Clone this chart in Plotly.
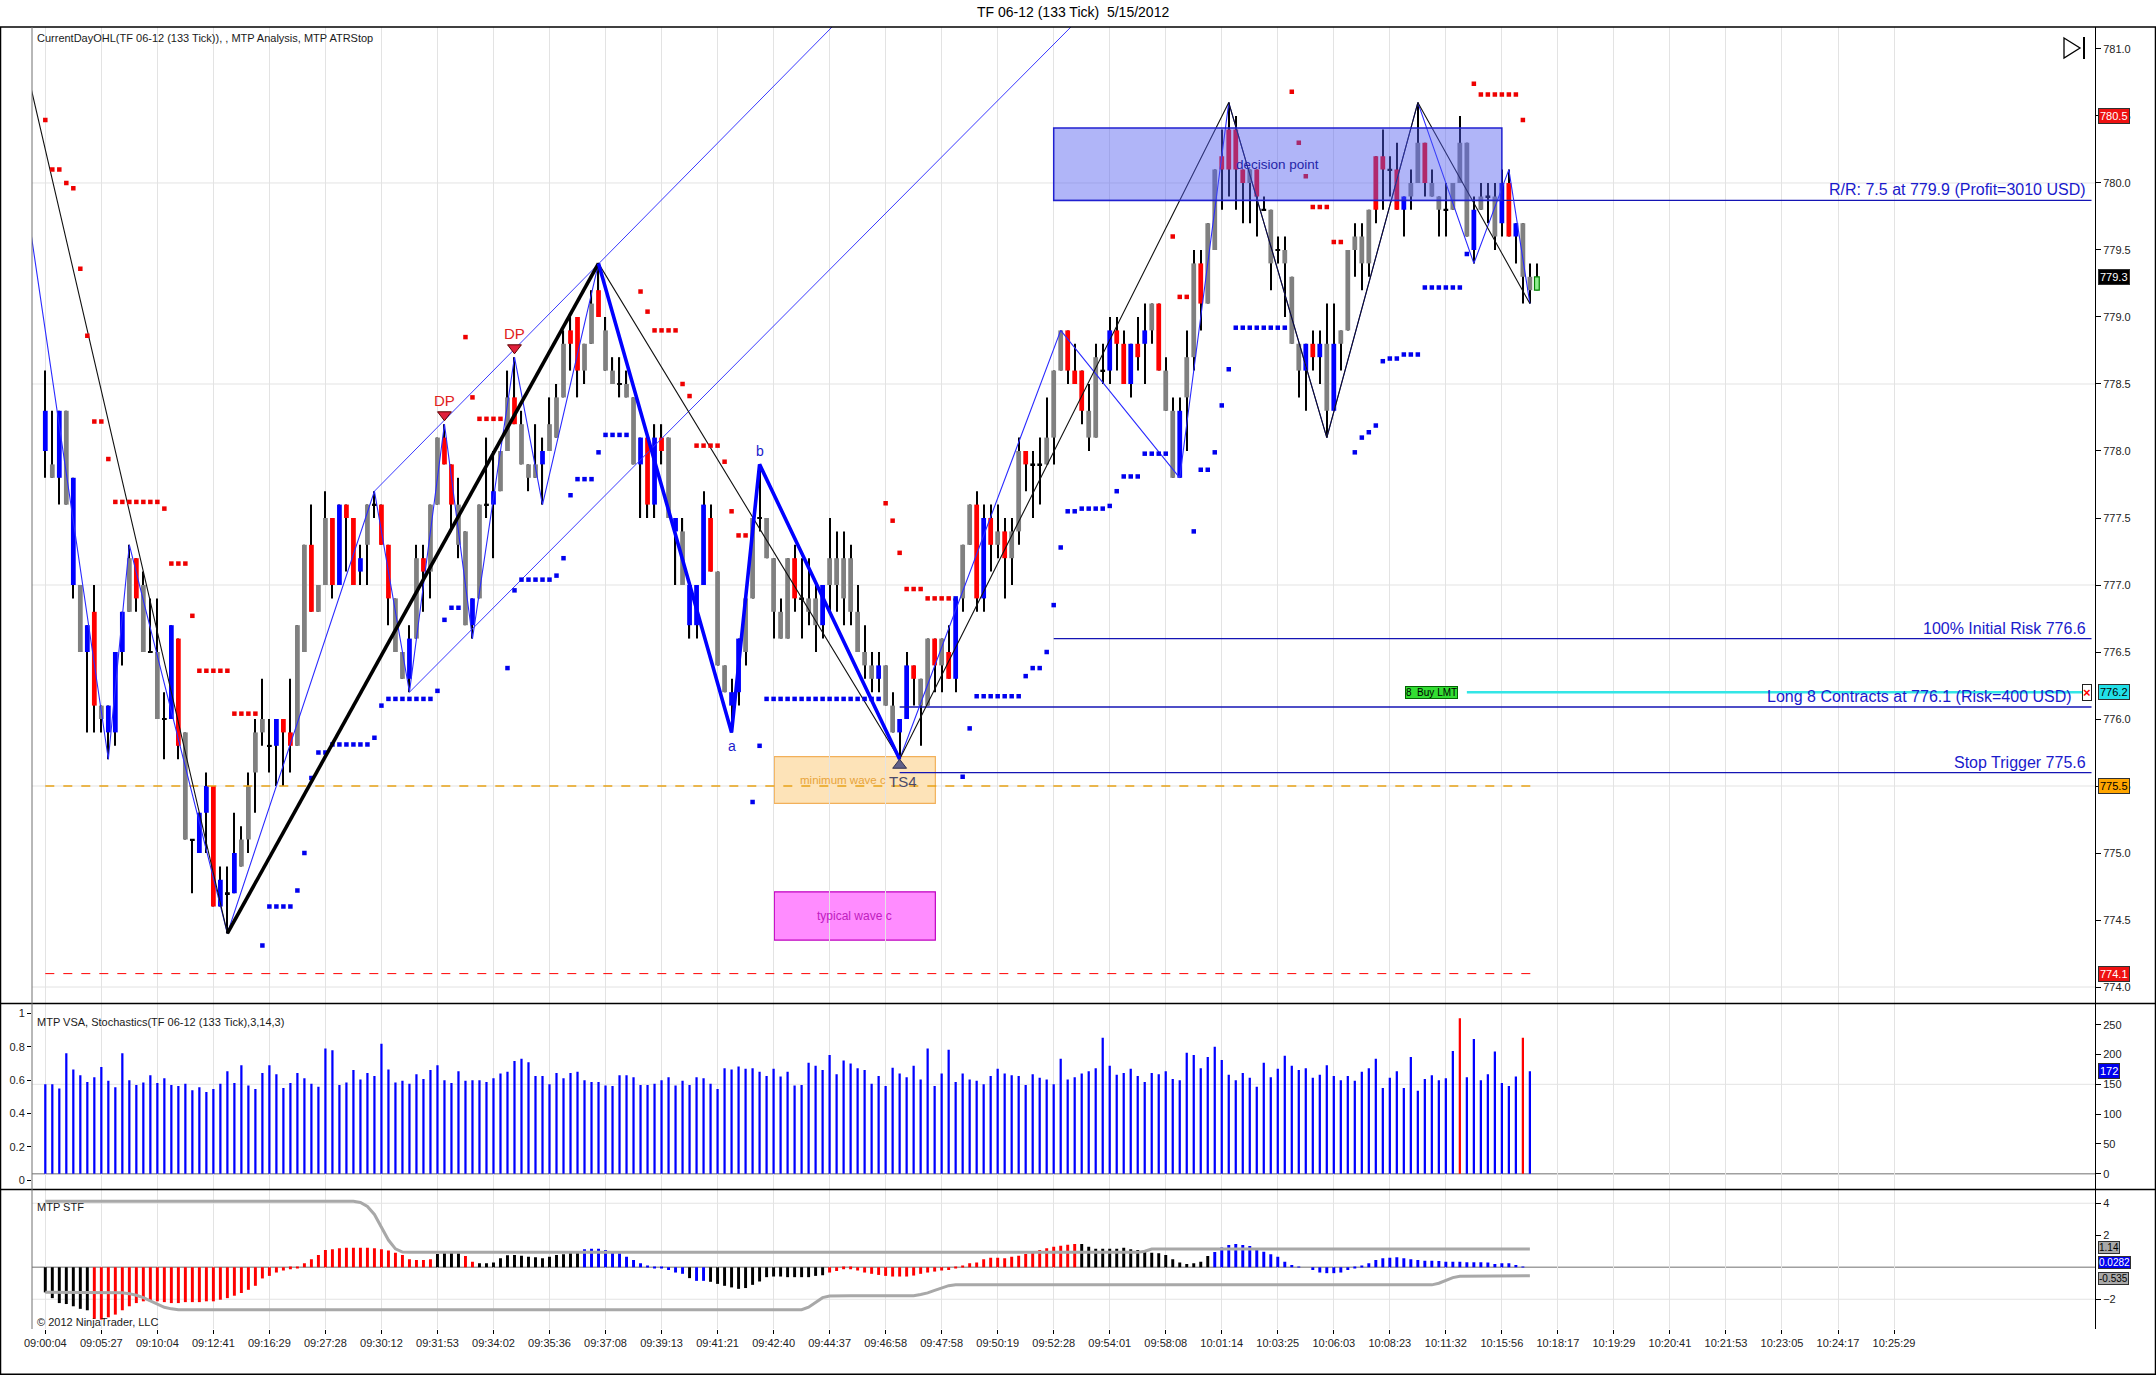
import plotly.graph_objects as go

# ---------------- data ----------------
time_labels = ["09:00:04", "09:05:27", "09:10:04", "09:12:41", "09:16:29", "09:27:28",
               "09:30:12", "09:31:53", "09:34:02", "09:35:36", "09:37:08", "09:39:13",
               "09:41:21", "09:42:40", "09:44:37", "09:46:58", "09:47:58", "09:50:19",
               "09:52:28", "09:54:01", "09:58:08", "10:01:14", "10:03:25", "10:06:03",
               "10:08:23", "10:11:32", "10:15:56", "10:18:17", "10:19:29", "10:20:41",
               "10:21:53", "10:23:05", "10:24:17", "10:25:29"]
bars_per_label = 8

# 133 tick bars: body top / bottom, high, low and MTP colour code
body_top = [
    778.3, 777.9, 778.3, 778.3, 777.8, 777.0, 776.7, 776.8, 776.1, 776.1,
    776.5, 776.8, 777.2, 777.2, 777.0, 776.5, 776.5, 776.0, 776.7, 776.6,
    775.9, 775.1, 775.3, 775.5, 775.5, 774.8, 774.7, 775.0, 775.1, 775.5,
    775.9, 776.0, 775.8, 776.0, 776.0, 775.9, 776.7, 777.3, 777.3, 777.0,
    777.5, 777.5, 777.6, 777.6, 777.5, 777.2, 777.6, 777.6, 777.6, 777.3,
    776.9, 776.5, 776.6, 777.2, 777.2, 777.6, 778.1, 778.1, 777.9, 777.6,
    777.4, 776.9, 777.6, 777.6, 777.7, 778.0, 778.4, 778.4, 778.2, 777.9,
    777.9, 778.0, 778.2, 778.4, 778.8, 778.9, 779.0, 778.8, 779.1, 779.2,
    778.9, 778.6, 778.5, 778.5, 778.4, 778.1, 778.1, 778.1, 778.1, 778.1,
    777.5, 777.4, 777.0, 777.0, 777.6, 777.5, 777.1, 776.4, 776.2, 776.6,
    776.9, 777.5, 777.5, 777.5, 777.2, 776.8, 777.2, 777.2, 776.9, 776.9,
    776.9, 777.0, 777.2, 777.2, 777.2, 777.2, 776.8, 776.5, 776.4, 776.4,
    776.4, 776.1, 776.0, 776.4, 776.4, 776.3, 776.6, 776.6, 776.6, 776.5,
    776.9, 777.3, 777.6, 777.6, 777.5, 777.5, 777.4, 777.4, 777.4, 778.0,
    778.0, 777.9, 777.9, 778.1, 778.6, 778.9, 778.9, 778.6, 778.6, 778.3,
    778.7, 778.6, 778.9, 778.9, 778.8, 778.8, 778.8, 778.9, 779.1, 779.1,
    778.6, 778.3, 778.3, 778.7, 779.4, 779.4, 779.7, 780.1, 780.2, 780.4,
    780.4, 780.1, 780.1, 780.1, 779.8, 779.8, 779.5, 779.5, 779.3, 778.8,
    778.8, 778.8, 778.8, 778.8, 778.8, 778.9, 779.5, 779.6, 779.6, 779.8,
    780.2, 780.2, 780.1, 780.1, 779.9, 780.0, 780.3, 780.3, 780.0, 779.9,
    779.8, 780.0, 780.3, 780.3, 779.8, 779.9, 779.9, 779.9, 780.0, 780.0,
    779.7, 779.7, 779.3, 779.3,
]
body_bot = [
    778.0, 777.8, 777.8, 777.6, 777.0, 776.5, 776.5, 776.1, 776.0, 775.9,
    775.9, 776.5, 776.8, 776.9, 776.5, 776.5, 776.0, 776.0, 776.0, 775.8,
    775.1, 775.1, 775.0, 775.3, 774.6, 774.6, 774.7, 774.7, 774.9, 775.1,
    775.6, 775.9, 775.8, 775.8, 775.9, 775.8, 775.8, 776.5, 776.8, 776.8,
    777.0, 777.0, 777.0, 777.5, 777.0, 777.1, 777.3, 777.6, 777.3, 776.9,
    776.5, 776.3, 776.3, 776.6, 777.1, 777.1, 777.6, 777.9, 777.6, 777.3,
    776.7, 776.7, 776.9, 777.6, 777.6, 777.7, 778.0, 778.2, 777.9, 777.8,
    777.8, 777.9, 778.0, 778.1, 778.4, 778.8, 778.6, 778.6, 778.8, 779.0,
    778.6, 778.5, 778.5, 778.4, 777.9, 777.9, 777.6, 777.6, 778.0, 777.5,
    777.4, 777.0, 776.7, 776.7, 777.0, 777.1, 776.4, 776.2, 776.1, 776.2,
    776.5, 776.9, 777.5, 777.2, 776.8, 776.6, 776.6, 776.9, 776.9, 776.8,
    776.7, 776.7, 777.0, 777.0, 776.9, 776.8, 776.5, 776.4, 776.3, 776.3,
    776.1, 775.9, 775.9, 776.0, 776.3, 776.1, 776.1, 776.4, 776.4, 776.3,
    776.3, 776.9, 777.3, 776.9, 776.9, 777.3, 777.3, 777.2, 777.2, 777.4,
    777.9, 777.9, 777.9, 777.9, 778.1, 778.6, 778.6, 778.5, 778.3, 778.1,
    778.1, 778.6, 778.6, 778.8, 778.5, 778.5, 778.7, 778.8, 778.9, 778.6,
    778.3, 777.8, 777.8, 778.4, 778.7, 779.1, 779.1, 779.5, 780.1, 780.1,
    780.1, 780.0, 780.0, 779.9, 779.8, 779.4, 779.5, 779.4, 778.8, 778.6,
    778.6, 778.7, 778.7, 778.3, 778.3, 778.8, 778.9, 779.5, 779.4, 779.4,
    779.8, 780.1, 780.1, 779.8, 779.8, 779.9, 780.0, 780.0, 779.9, 779.8,
    779.8, 779.8, 780.0, 779.6, 779.5, 779.8, 779.9, 779.6, 779.7, 779.6,
    779.6, 779.3, 779.2, 779.2,
]
bar_high = [
    778.6, 778.3, 778.3, 778.3, 777.8, 777.0, 776.7, 777.0, 776.1, 776.1,
    776.5, 776.8, 777.3, 777.2, 777.1, 776.9, 776.9, 776.2, 776.7, 776.6,
    775.9, 775.1, 775.3, 775.6, 775.5, 774.9, 774.9, 775.3, 775.2, 775.6,
    776.0, 776.3, 776.0, 776.0, 776.0, 776.3, 776.7, 777.3, 777.6, 777.0,
    777.7, 777.5, 777.6, 777.6, 777.5, 777.3, 777.6, 777.7, 777.6, 777.3,
    776.9, 776.5, 776.7, 777.3, 777.3, 777.6, 778.1, 778.2, 777.9, 777.8,
    777.4, 776.9, 777.6, 778.1, 778.0, 778.0, 778.6, 778.7, 778.3, 777.9,
    778.2, 778.1, 778.4, 778.5, 778.9, 779.0, 779.0, 778.8, 779.2, 779.4,
    779.0, 778.7, 778.7, 778.6, 778.4, 778.1, 778.1, 778.2, 778.2, 778.1,
    777.5, 777.5, 777.0, 777.0, 777.7, 777.6, 777.1, 776.4, 776.3, 776.6,
    776.9, 777.5, 777.9, 777.5, 777.2, 776.9, 777.2, 777.3, 777.2, 777.2,
    777.0, 777.0, 777.5, 777.4, 777.4, 777.3, 777.0, 776.7, 776.5, 776.5,
    776.4, 776.2, 776.0, 776.5, 776.4, 776.3, 776.6, 776.6, 776.6, 776.7,
    776.9, 777.3, 777.6, 777.7, 777.6, 777.6, 777.6, 777.5, 777.5, 778.1,
    778.0, 778.0, 778.1, 778.4, 778.6, 778.9, 778.9, 778.8, 778.6, 778.5,
    778.8, 778.8, 779.0, 779.0, 778.9, 778.8, 779.0, 779.1, 779.1, 779.1,
    778.7, 778.4, 778.4, 778.9, 779.5, 779.5, 779.7, 780.1, 780.4, 780.6,
    780.5, 780.1, 780.1, 780.1, 779.9, 779.8, 779.6, 779.6, 779.3, 778.8,
    778.8, 778.9, 778.9, 779.1, 779.1, 778.9, 779.5, 779.7, 779.7, 779.8,
    780.2, 780.4, 780.2, 780.3, 779.9, 780.1, 780.6, 780.3, 780.1, 779.9,
    780.0, 780.0, 780.5, 780.3, 779.9, 780.0, 780.0, 780.0, 780.1, 780.1,
    779.7, 779.7, 779.4, 779.4,
]
bar_low = [
    777.8, 777.8, 777.6, 777.6, 776.9, 776.5, 775.9, 775.9, 775.9, 775.7,
    775.8, 776.4, 776.8, 776.8, 776.5, 776.5, 776.0, 775.7, 776.0, 775.7,
    775.1, 774.7, 775.0, 775.0, 774.6, 774.6, 774.4, 774.7, 774.9, 775.0,
    775.3, 775.8, 775.6, 775.5, 775.5, 775.6, 775.8, 776.5, 776.8, 776.8,
    777.0, 776.9, 777.0, 777.1, 777.0, 777.0, 777.0, 777.5, 777.3, 776.7,
    776.5, 776.3, 776.2, 776.6, 776.8, 776.9, 777.6, 777.9, 777.4, 777.2,
    776.7, 776.6, 776.9, 777.5, 777.2, 777.7, 778.0, 778.2, 777.9, 777.7,
    777.8, 777.6, 778.0, 778.1, 778.4, 778.6, 778.4, 778.5, 778.8, 779.0,
    778.6, 778.5, 778.4, 778.4, 777.9, 777.5, 777.5, 777.5, 777.9, 777.5,
    777.0, 777.0, 776.6, 776.6, 777.0, 777.1, 776.4, 776.2, 775.9, 776.1,
    776.4, 776.9, 777.4, 777.2, 776.6, 776.6, 776.6, 776.8, 776.6, 776.7,
    776.5, 776.6, 776.8, 776.8, 776.7, 776.7, 776.5, 776.3, 776.2, 776.2,
    776.1, 775.9, 775.7, 776.0, 776.1, 775.8, 776.1, 776.2, 776.2, 776.3,
    776.2, 776.8, 777.3, 776.8, 776.8, 777.1, 777.2, 776.9, 777.0, 777.3,
    777.7, 777.5, 777.6, 777.9, 777.9, 778.6, 778.5, 778.5, 778.2, 778.0,
    778.1, 778.5, 778.5, 778.6, 778.5, 778.4, 778.6, 778.5, 778.8, 778.6,
    778.3, 777.8, 777.8, 778.0, 778.6, 778.9, 779.1, 779.5, 779.8, 779.9,
    779.8, 779.7, 779.7, 779.6, 779.8, 779.2, 779.4, 779.0, 778.8, 778.4,
    778.3, 778.6, 778.5, 778.1, 778.3, 778.6, 778.9, 779.3, 779.2, 779.3,
    779.7, 779.8, 779.9, 779.8, 779.6, 779.8, 780.0, 779.9, 779.9, 779.6,
    779.6, 779.8, 780.0, 779.6, 779.4, 779.8, 779.7, 779.5, 779.6, 779.6,
    779.4, 779.1, 779.1, 779.2,
]
# B blue, R red, G gray, K doji, L current (forming) bar
bar_code = ("BGBGBGBRGB" "BBGRGKGKBR" "GKBBRBKBGG" "GGKBRRGGRG" "GRBRRBGKRR"
            "GGBGRGGRRG" "GBGKBGGRGG" "GBGGGRRGGR" "GGKGGBRBRG" "BGBBBRGGBB"
            "GGKGGGGRKG" "GBGGGGGGGB" "GGBBRGGRGR" "BGGRBRGRGG" "RKKGGGRRRG"
            "GKBRRBRBGR" "GGBGGRGGRR" "RRGRKGKGGG" "BRBGBGGGGG" "RRKRBGGRGG"
            "KGGGBGKGBR" "BGGL")

# MTP ATR stop (None = no dot)
atr_stop = [
    780.47, 780.10, 780.10, 780.00, 779.96, 779.36, 778.86, 778.22, 778.22, 777.94,
    777.62, 777.62, 777.62, 777.62, 777.62, 777.62, 777.62, 777.57, 777.16, 777.16,
    777.16, 776.77, 776.36, 776.36, 776.36, 776.36, 776.36, 776.04, 776.04, 776.04,
    776.04, 774.31, 774.60, 774.60, 774.60, 774.60, 774.72, 775.00, 775.56, 775.75,
    775.75, 775.81, 775.81, 775.81, 775.81, 775.81, 775.81, 775.86, 776.10, 776.15,
    776.15, 776.15, 776.15, 776.15, 776.15, 776.15, 776.21, 776.74, 776.83, 776.83,
    778.85, 778.40, 778.24, 778.24, 778.24, 778.24, 776.38, 776.96, 777.04, 777.04,
    777.04, 777.04, 777.04, 777.07, 777.20, 777.67, 777.79, 777.79, 777.79, 777.99,
    778.12, 778.12, 778.12, 778.12, None, 779.19, 779.04, 778.90, 778.90, 778.90,
    778.90, 778.50, 778.41, 778.04, 778.04, 778.04, 778.04, 777.92, 777.55, 777.37,
    777.37, 775.38, 775.80, 776.15, 776.15, 776.15, 776.15, 776.15, 776.15, 776.15,
    776.15, 776.15, 776.15, 776.15, 776.15, 776.15, 776.15, 776.15, 776.15, 776.15,
    777.61, 777.48, 777.24, 776.97, 776.97, 776.97, 776.90, 776.90, 776.90, 776.90,
    776.90, 775.57, 775.93, 776.17, 776.17, 776.17, 776.17, 776.17, 776.17, 776.17,
    776.32, 776.38, 776.38, 776.50, 776.85, 777.28, 777.55, 777.55, 777.57, 777.57,
    777.57, 777.57, 777.59, 777.70, 777.81, 777.81, 777.81, 777.98, 777.98, 777.98,
    777.98, 779.60, 779.15, 779.15, 777.40, 777.86, 777.86, 777.99, 778.34, 778.61,
    778.92, 778.92, 778.92, 778.92, 778.92, 778.92, 778.92, 778.92, 780.68, 780.30,
    780.05, 779.82, 779.82, 779.82, 779.56, 779.56, None, 777.99, 778.10, 778.14,
    778.19, 778.67, 778.69, 778.69, 778.72, 778.72, 778.72, 779.22, 779.22, 779.22,
    779.22, 779.22, 779.22, 779.47, 780.74, 780.66, 780.66, 780.66, 780.66, 780.66,
    780.66, 780.47, None, None,
]

# swing analysis (bar index, price)
zz_black_bars = [-4, 26, 79, 122, 169, 183, 196, 212]
zz_black_px = [781.15, 774.4, 779.4, 775.7, 780.6, 778.1, 780.6, 779.1]
zz_blue_bars = [-4, 9, 12, 26, 47, 52, 57, 61, 67, 71, 79, 98, 102, 122, 145, 162,
                169, 183, 196, 204, 209, 212]
zz_blue_px = [780.32, 775.7, 777.3, 774.4, 777.7, 776.2, 778.2, 776.6, 778.7, 777.6,
              779.4, 775.9, 777.9, 775.7, 778.9, 777.8, 780.6, 778.1, 780.6, 779.4,
              780.1, 779.1]
impulse_bars = [26, 79]
impulse_px = [774.4, 779.4]
abc_bars = [79, 98, 102, 122]
abc_px = [779.4, 775.9, 777.9, 775.7]
channel_top_bars = [47, 130]
channel_top_px = [777.7, 782.1]
channel_bot_bars = [52, 150]
channel_bot_px = [776.2, 781.35]
dp_bars = [57, 67]

# trade levels
level_px = [779.87, 776.6, 776.09, 775.6]
level_start = [144, 144, 122, 122]
level_text = ["R/R: 7.5 at 779.9 (Profit=3010 USD)", "100% Initial Risk 776.6",
              "Long 8 Contracts at 776.1 (Risk=400 USD)", "Stop Trigger 775.6"]
order_px = 776.2
order_bars = [193, 203]
day_open_px = 775.5
day_low_px = 774.1
decision_box = [144, 208, 779.87, 780.41]
min_wave_box = [104.1, 127.1, 775.37, 775.72]
typ_wave_box = [104.1, 127.1, 774.35, 774.71]

# MTP VSA volume (bars 0..212), climax bars drawn red
vsa_volume = [
    150, 150, 143, 202, 175, 165, 154, 162, 179, 156,
    145, 202, 157, 149, 153, 165, 152, 160, 149, 147,
    151, 140, 145, 137, 142, 151, 172, 152, 182, 148,
    142, 169, 182, 167, 144, 152, 169, 160, 151, 146,
    210, 207, 149, 153, 174, 158, 169, 164, 218, 175,
    153, 156, 151, 167, 159, 174, 182, 157, 152, 172,
    156, 157, 157, 154, 160, 168, 171, 189, 193, 187,
    164, 164, 150, 169, 160, 169, 171, 157, 154, 154,
    148, 147, 165, 165, 162, 149, 149, 151, 157, 162,
    148, 156, 149, 162, 160, 151, 142, 177, 175, 180,
    176, 177, 171, 164, 176, 163, 171, 148, 149, 186,
    181, 174, 199, 167, 190, 185, 177, 174, 151, 164,
    147, 178, 168, 162, 181, 158, 210, 147, 168, 208,
    154, 168, 158, 156, 150, 164, 176, 168, 165, 164,
    149, 167, 161, 158, 150, 193, 158, 162, 168, 172,
    177, 228, 181, 166, 169, 176, 164, 154, 169, 167,
    172, 159, 157, 203, 199, 177, 196, 213, 191, 166,
    157, 169, 161, 146, 186, 162, 176, 198, 181, 174,
    177, 161, 166, 182, 164, 157, 164, 156, 171, 177,
    193, 144, 161, 172, 144, 196, 139, 159, 165, 157,
    160, 206, 261, 162, 226, 157, 167, 205, 152, 147,
    163, 228, 172,
]
vsa_climax = [202, 211]

# MTP STF histogram (bars 0..211) and its bands (bars 0..212)
stf_hist = [
    -1.57, -1.93, -2.24, -2.30, -2.44, -2.60, -2.69,
    -3.23, -3.27, -3.13, -2.96, -2.69, -2.44, -2.24, -2.13, -2.13, -2.13,
    -2.18, -2.24, -2.24, -2.18, -2.18, -2.18, -2.13, -2.13, -2.03, -1.93,
    -1.78, -1.61, -1.41, -1.16, -0.70, -0.54, -0.33, -0.21, -0.12, -0.02,
    0.25, 0.50, 0.77, 1.08, 1.12, 1.18, 1.22, 1.22, 1.22, 1.22,
    1.18, 1.12, 1.04, 0.91, 0.77, 0.50, 0.46, 0.46, 0.50,
    0.83, 1.01, 1.01, 0.87,
    0.70, 0.35,
    0.25, 0.25, 0.29, 0.56, 0.75, 0.77, 0.72, 0.66, 0.62, 0.56, 0.66, 0.77, 0.81, 0.93, 1.01,
    1.12, 1.16, 1.16, 1.08, 0.97, 0.87, 0.66, 0.46, 0.25, 0.08, -0.02, -0.06, -0.17, -0.33, -0.41,
    -0.68,
    -0.85, -0.85,
    -0.91, -1.04, -1.16, -1.26, -1.35, -1.30, -1.10, -0.89, -0.62, -0.58, -0.58, -0.62, -0.62,
    -0.62, -0.62, -0.54, -0.50,
    -0.33, -0.23, -0.12, -0.12, -0.21, -0.33, -0.41, -0.48, -0.54, -0.58, -0.58, -0.58, -0.52,
    -0.41, -0.33, -0.27, -0.21, -0.17, -0.06,
    0.08, 0.25, 0.29, 0.50, 0.60, 0.60, 0.56, 0.66, 0.72, 0.83, 0.93, 1.08, 1.18, 1.28, 1.35,
    1.41, 1.45,
    1.45, 1.28, 1.16, 1.16, 1.16, 1.16, 1.22, 1.12, 1.08, 0.97, 0.91, 0.87, 0.77, 0.50, 0.29,
    0.21, 0.25, 0.35, 0.70,
    0.95, 1.24, 1.39, 1.45, 1.39, 1.33, 1.18, 0.97, 0.81, 0.66, 0.35, 0.14, 0.04, 0.00, -0.17,
    -0.33, -0.37, -0.37, -0.33, -0.17, -0.08, 0.08, 0.25, 0.46, 0.56,
    0.60, 0.62, 0.56, 0.50, 0.46, 0.41, 0.41, 0.39, 0.35, 0.35, 0.35, 0.31, 0.31, 0.31, 0.29,
    0.21, 0.25, 0.25, 0.14, 0.03,
]
stf_code = ("K" * 7 + "R" * 49 + "K" * 4 + "R" * 2 + "K" * 15 + "U" * 15 + "K"
            + "U" * 2 + "K" * 17 + "R" * 36 + "K" * 19 + "U" * 45)
stf_upper = ([4.12] * 45 + [4.05, 3.8, 3.3, 2.5, 1.7, 1.15, 0.95] + [0.93] * 105
             + [1.0] + [1.14] * 55)
stf_lower = ([-1.57] * 11 + [-1.6, -1.65, -1.75, -1.9, -2.1, -2.3, -2.5, -2.6]
             + [-2.65] * 90 + [-2.5, -2.2, -1.9, -1.8] + [-1.78] * 12
             + [-1.7, -1.6, -1.45, -1.3, -1.15] + [-1.10] * 69 + [-1.0, -0.8, -0.65]
             + [-0.56] * 7 + [-0.535] * 4)

# ---------------- layout geometry (pixels of the 2156x1375 page) ----------------
W, H = 2156, 1375
L, R, T, B = 32, 61, 27, 46
PW, PH = W - L - R, H - T - B
X_RANGE = [-1.9, 292.7]
X_LINE_END = 292.2


def pxx(x):
    return (x - L) / PW


def pxy(y):
    return (H - B - y) / PH


main_dom = [pxy(1003.5), 1.0]
vsa_dom = [pxy(1189.5), pxy(1003.5)]
stf_dom = [0.0, pxy(1189.5)]

FONT = "Arial, Liberation Sans, sans-serif"
COL = {"B": "#0000ff", "R": "#ff0000", "G": "#808080", "K": "#000000", "L": "#90ee90",
       "U": "#0000ff"}
LEVEL_BLUE = "#1a1acc"

n = len(body_top)
idx = list(range(n))

fig = go.Figure()

# candle wicks (thin black bars under the bodies)
fig.add_trace(go.Bar(x=idx, base=bar_low, y=[h - l for h, l in zip(bar_high, bar_low)],
                     width=0.16, marker=dict(color="#000000", line_width=0),
                     xaxis="x", yaxis="y", hoverinfo="skip"))
# candle bodies
heights, bases = [], []
for t, b in zip(body_top, body_bot):
    if t - b < 0.02:
        heights.append(0.014)
        bases.append(b - 0.007)
    else:
        heights.append(t - b)
        bases.append(b)
fig.add_trace(go.Bar(
    x=idx, base=bases, y=heights, width=0.68,
    marker=dict(color=[COL[c] for c in bar_code],
                line=dict(color=["#008000" if c == "L" else "rgba(0,0,0,0)" for c in bar_code],
                          width=[1.2 if c == "L" else 0 for c in bar_code])),
    xaxis="x", yaxis="y", hoverinfo="skip"))

# day open / day low dashed lines
fig.add_trace(go.Scatter(x=[0, n - 1], y=[day_open_px, day_open_px], mode="lines",
                         line=dict(color="#e8a317", width=1.3, dash="dash"),
                         xaxis="x", yaxis="y", hoverinfo="skip"))
fig.add_trace(go.Scatter(x=[0, n - 1], y=[day_low_px, day_low_px], mode="lines",
                         line=dict(color="#ff0000", width=1, dash="dash"),
                         xaxis="x", yaxis="y", hoverinfo="skip"))

# trade level lines
for p, s in zip(level_px, level_start):
    fig.add_trace(go.Scatter(x=[s, X_LINE_END], y=[p, p], mode="lines",
                             line=dict(color="#1414b4", width=1.4),
                             xaxis="x", yaxis="y", hoverinfo="skip"))
fig.add_trace(go.Scatter(x=[order_bars[1], X_LINE_END], y=[order_px, order_px], mode="lines",
                         line=dict(color="#33e6e6", width=2.6),
                         xaxis="x", yaxis="y", hoverinfo="skip"))

# channel lines
for xs, ys in [(channel_top_bars, channel_top_px), (channel_bot_bars, channel_bot_px)]:
    fig.add_trace(go.Scatter(x=xs, y=ys, mode="lines", line=dict(color="#3a3aff", width=1),
                             xaxis="x", yaxis="y", hoverinfo="skip"))

# minor and major zigzags
fig.add_trace(go.Scatter(x=zz_blue_bars, y=zz_blue_px, mode="lines",
                         line=dict(color="#2a2aff", width=1.1),
                         xaxis="x", yaxis="y", hoverinfo="skip"))
fig.add_trace(go.Scatter(x=zz_black_bars, y=zz_black_px, mode="lines",
                         line=dict(color="#111111", width=1.1),
                         xaxis="x", yaxis="y", hoverinfo="skip"))

# ATR stop dots
red_x, red_y, blue_x, blue_y = [], [], [], []
for i, s in enumerate(atr_stop):
    if s is None:
        continue
    if s > body_top[i]:
        red_x.append(i)
        red_y.append(s)
    else:
        blue_x.append(i)
        blue_y.append(s)
fig.add_trace(go.Scatter(x=red_x, y=red_y, mode="markers",
                         marker=dict(symbol="square", size=4.5, color="#ee0000"),
                         xaxis="x", yaxis="y", hoverinfo="skip"))
fig.add_trace(go.Scatter(x=blue_x, y=blue_y, mode="markers",
                         marker=dict(symbol="square", size=4.5, color="#0000ee"),
                         xaxis="x", yaxis="y", hoverinfo="skip"))

# thick swing legs
fig.add_trace(go.Scatter(x=impulse_bars, y=impulse_px, mode="lines",
                         line=dict(color="#000000", width=3.6),
                         xaxis="x", yaxis="y", hoverinfo="skip"))
fig.add_trace(go.Scatter(x=abc_bars, y=abc_px, mode="lines",
                         line=dict(color="#0000ff", width=3.6),
                         xaxis="x", yaxis="y", hoverinfo="skip"))

# DP and TS4 markers
fig.add_trace(go.Scatter(x=dp_bars, y=[bar_high[i] + 0.07 for i in dp_bars], mode="markers",
                         marker=dict(symbol="triangle-down", size=12, color="#e0203c",
                                     line=dict(color="#600000", width=1)),
                         xaxis="x", yaxis="y", hoverinfo="skip"))
fig.add_trace(go.Scatter(x=[abc_bars[-1]], y=[abc_px[-1] - 0.045], mode="markers",
                         marker=dict(symbol="triangle-up", size=12, color="#606088",
                                     line=dict(color="#303050", width=1)),
                         xaxis="x", yaxis="y", hoverinfo="skip"))

# VSA volume
fig.add_trace(go.Bar(x=list(range(len(vsa_volume))), y=vsa_volume, width=0.32,
                     marker=dict(color=["#ff0000" if i in vsa_climax else "#0000ff"
                                        for i in range(len(vsa_volume))], line_width=0),
                     xaxis="x2", yaxis="y2", hoverinfo="skip"))
# stochastics scale holder (the stochastic itself is not drawn on this chart)
fig.add_trace(go.Scatter(x=[0], y=[0], mode="markers", marker=dict(opacity=0),
                         xaxis="x2", yaxis="y4", hoverinfo="skip"))

# STF
fig.add_trace(go.Scatter(x=list(range(len(stf_upper))), y=stf_upper, mode="lines",
                         line=dict(color="#a8a8a8", width=3),
                         xaxis="x3", yaxis="y3", hoverinfo="skip"))
fig.add_trace(go.Scatter(x=list(range(len(stf_lower))), y=stf_lower, mode="lines",
                         line=dict(color="#a8a8a8", width=3),
                         xaxis="x3", yaxis="y3", hoverinfo="skip"))
fig.add_trace(go.Bar(x=list(range(len(stf_hist))), y=stf_hist, width=0.42,
                     marker=dict(color=[COL[c] for c in stf_code], line_width=0),
                     xaxis="x3", yaxis="y3", hoverinfo="skip"))

# ---------------- shapes ----------------
shapes = []
GRID = "#e3e3e3"
for lv in [774.0, 775.5, 777.0, 778.5, 780.0]:
    shapes.append(dict(type="line", xref="x domain", yref="y", x0=0, x1=1, y0=lv, y1=lv,
                       line=dict(color=GRID, width=1), layer="below"))
shapes.append(dict(type="line", xref="x2 domain", yref="y2", x0=0, x1=1, y0=150, y1=150,
                   line=dict(color=GRID, width=1), layer="below"))
shapes.append(dict(type="line", xref="x2 domain", yref="y2", x0=0, x1=1, y0=0, y1=0,
                   line=dict(color="#a0a0a0", width=1.5), layer="below"))
for lv in [4, -2]:
    shapes.append(dict(type="line", xref="x3 domain", yref="y3", x0=0, x1=1, y0=lv, y1=lv,
                       line=dict(color=GRID, width=1), layer="below"))
shapes.append(dict(type="line", xref="x3 domain", yref="y3", x0=0, x1=1, y0=0, y1=0,
                   line=dict(color="#a0a0a0", width=1.5), layer="below"))

# wave projection boxes
shapes.append(dict(type="rect", xref="x", yref="y", x0=min_wave_box[0], x1=min_wave_box[1],
                   y0=min_wave_box[2], y1=min_wave_box[3], fillcolor="#fde3b8",
                   line=dict(color="#f2b05a", width=1.2), layer="below"))
shapes.append(dict(type="rect", xref="x", yref="y", x0=typ_wave_box[0], x1=typ_wave_box[1],
                   y0=typ_wave_box[2], y1=typ_wave_box[3], fillcolor="#ff8cff",
                   line=dict(color="#c000c0", width=1.2), layer="below"))
# decision point zone
shapes.append(dict(type="rect", xref="x", yref="y", x0=decision_box[0], x1=decision_box[1],
                   y0=decision_box[2], y1=decision_box[3], fillcolor="rgba(80,90,240,0.45)",
                   line=dict(color="#2020d0", width=1.5), layer="above"))

# panel frames
for yp in [1.0, main_dom[0], vsa_dom[0]]:
    shapes.append(dict(type="line", xref="paper", yref="paper", x0=pxx(0), x1=pxx(W),
                       y0=yp, y1=yp, line=dict(color="#000000", width=1.6)))
shapes.append(dict(type="line", xref="paper", yref="paper", x0=pxx(0.5), x1=pxx(0.5),
                   y0=pxy(H - 0.5), y1=1.0, line=dict(color="#000000", width=1.5)))
shapes.append(dict(type="line", xref="paper", yref="paper", x0=pxx(W - 0.5), x1=pxx(W - 0.5),
                   y0=pxy(H - 0.5), y1=1.0, line=dict(color="#000000", width=1.5)))
shapes.append(dict(type="line", xref="paper", yref="paper", x0=pxx(0), x1=pxx(W),
                   y0=pxy(H - 0.8), y1=pxy(H - 0.8), line=dict(color="#000000", width=1.5)))
shapes.append(dict(type="line", xref="paper", yref="paper", x0=0, x1=0, y0=0, y1=1,
                   line=dict(color="#707070", width=1)))
# "scroll to end" glyph
shapes.append(dict(type="path", xref="paper", yref="paper",
                   path=f"M {pxx(2064)},{pxy(38)} L {pxx(2080)},{pxy(48)} L {pxx(2064)},{pxy(58)} Z",
                   line=dict(color="#000000", width=1.3), fillcolor="rgba(0,0,0,0)"))
shapes.append(dict(type="line", xref="paper", yref="paper", x0=pxx(2084), x1=pxx(2084),
                   y0=pxy(37), y1=pxy(59), line=dict(color="#000000", width=2)))

# ---------------- annotations ----------------
ann = []


def text(x, y, s, color, size, xref="x", yref="y", xanchor="center", yanchor="middle",
         yshift=0, xshift=0, **kw):
    ann.append(dict(x=x, y=y, xref=xref, yref=yref, text=s, showarrow=False,
                    font=dict(family=FONT, size=size, color=color), xanchor=xanchor,
                    yanchor=yanchor, yshift=yshift, xshift=xshift, **kw))


def tag(y, yref, s, bg, fg, yshift=0, size=11, pad=1):
    ann.append(dict(x=1, y=y, xref="paper", yref=yref, text=s, showarrow=False,
                    font=dict(family=FONT, size=size, color=fg), bgcolor=bg,
                    bordercolor="#303030", borderwidth=1, borderpad=pad,
                    xanchor="left", yanchor="middle", xshift=3, yshift=yshift))


text(pxx(1073), pxy(12), "TF 06-12 (133 Tick)  5/15/2012", "#000000", 14,
     xref="paper", yref="paper")
text(pxx(35), pxy(38), "CurrentDayOHL(TF 06-12 (133 Tick)), , MTP Analysis, MTP ATRStop",
     "#1a1a1a", 11, xref="paper", yref="paper", xanchor="left")
text(pxx(35), pxy(1022), "MTP VSA, Stochastics(TF 06-12 (133 Tick),3,14,3)", "#1a1a1a", 11,
     xref="paper", yref="paper", xanchor="left")
text(pxx(35), pxy(1207), "MTP STF", "#1a1a1a", 11, xref="paper", yref="paper", xanchor="left")
text(pxx(35), pxy(1322), "© 2012 NinjaTrader, LLC", "#1a1a1a", 11, xref="paper", yref="paper",
     xanchor="left")

level_shift = [-4, -4, -18, -4]
for p, s, xs in zip(level_px, level_text, level_shift):
    text(X_LINE_END, p, s, LEVEL_BLUE, 16, xanchor="right", yanchor="bottom",
         xshift=xs, yshift=0)

for i in dp_bars:
    text(i, bar_high[i], "DP", "#e02020", 15, yshift=24)
text(abc_bars[1], abc_px[1], "a", "#1a1acc", 14, yshift=-14)
text(abc_bars[2], abc_px[2], "b", "#1a1acc", 14, yshift=13)
text((min_wave_box[0] + min_wave_box[1]) / 2, (min_wave_box[2] + min_wave_box[3]) / 2,
     "minimum wave c", "#e8a33a", 11.5, xshift=-12)
text(abc_bars[-1], abc_px[-1], "TS4", "#4a4a6a", 15, yshift=-22, xshift=3)
text((typ_wave_box[0] + typ_wave_box[1]) / 2, (typ_wave_box[2] + typ_wave_box[3]) / 2,
     "typical wave c", "#c020c0", 12)
text(176, 780.14, "decision point", "#2424a8", 13.5)
ann.append(dict(x=(order_bars[0] + order_bars[1]) / 2, y=order_px, xref="x", yref="y",
                text="8&nbsp;&nbsp;Buy LMT", showarrow=False,
                font=dict(family=FONT, size=10, color="#000000"), bgcolor="#33dd33",
                bordercolor="#006600", borderwidth=1, borderpad=0))
ann.append(dict(x=X_LINE_END, y=order_px, xref="x", yref="y", text="<b>×</b>", showarrow=False,
                font=dict(family=FONT, size=13, color="#ff0000"), bgcolor="#ffffff",
                bordercolor="#202020", borderwidth=1, borderpad=0, xanchor="right"))

tag(780.5, "y", "780.5", "#ee1111", "#ffffff")
tag(779.3, "y", "779.3", "#000000", "#ffffff")
tag(776.2, "y", "776.2", "#22e0e8", "#000000")
tag(775.5, "y", "775.5", "#ffa500", "#000000")
tag(774.1, "y", "774.1", "#ee1111", "#ffffff")
tag(172, "y2", "172", "#0000ee", "#ffffff")
tag(1.14, "y3", "1.14", "#a8a8a8", "#000000", yshift=2, size=10, pad=0)
tag(0.0282, "y3", "0.0282", "#0000ee", "#ffffff", yshift=4, size=10, pad=0)
tag(-0.535, "y3", "-0.535", "#a8a8a8", "#000000", yshift=-3, size=10, pad=0)

# ---------------- axes ----------------
tickvals = [k * bars_per_label for k in range(len(time_labels))]
xcommon = dict(range=X_RANGE, tickvals=tickvals, ticktext=time_labels, showgrid=True,
               gridcolor=GRID, gridwidth=1, zeroline=False, showline=False, fixedrange=True)
ycommon = dict(side="right", showgrid=False, zeroline=False, showline=True,
               linecolor="#000000", linewidth=1, ticks="outside", ticklen=5,
               tickcolor="#000000", tickfont=dict(family=FONT, size=11, color="#222222"),
               fixedrange=True)

fig.update_layout(
    width=W, height=H,
    margin=dict(l=L, r=R, t=T, b=B, autoexpand=False),
    paper_bgcolor="#ffffff", plot_bgcolor="#ffffff",
    showlegend=False, barmode="overlay", hovermode=False,
    font=dict(family=FONT, size=11, color="#222222"),
    xaxis=dict(**xcommon, domain=[0, 1], anchor="y", showticklabels=False),
    xaxis2=dict(**xcommon, domain=[0, 1], anchor="y2", matches="x", showticklabels=False),
    xaxis3=dict(**xcommon, domain=[0, 1], anchor="y3", matches="x", showticklabels=True,
                ticks="outside", ticklen=4, tickcolor="#000000",
                tickfont=dict(family=FONT, size=11, color="#222222")),
    yaxis=dict(**ycommon, domain=main_dom, anchor="x", range=[773.877, 781.164],
               tick0=774.0, dtick=0.5, tickformat=".1f"),
    yaxis2=dict(**ycommon, domain=vsa_dom, anchor="x2", range=[-26.5, 285.6],
                tickvals=[0, 50, 100, 150, 200, 250]),
    yaxis3=dict(**ycommon, domain=stf_dom, anchor="x3", range=[-3.86, 4.86],
                tickvals=[-2, 2, 4]),
    yaxis4=dict(overlaying="y2", side="left", anchor="x2", range=[-0.057, 1.059],
                tickvals=[0, 0.2, 0.4, 0.6, 0.8, 1], ticktext=["0", "0.2", "0.4", "0.6", "0.8", "1"],
                showgrid=False, zeroline=False, showline=False, ticks="outside", ticklen=4,
                tickcolor="#000000", tickfont=dict(family=FONT, size=11, color="#222222"),
                fixedrange=True),
    shapes=shapes,
    annotations=ann,
)

fig.write_html("out.html", config={"displayModeBar": False},
               post_script="document.body.style.margin='0px';")
